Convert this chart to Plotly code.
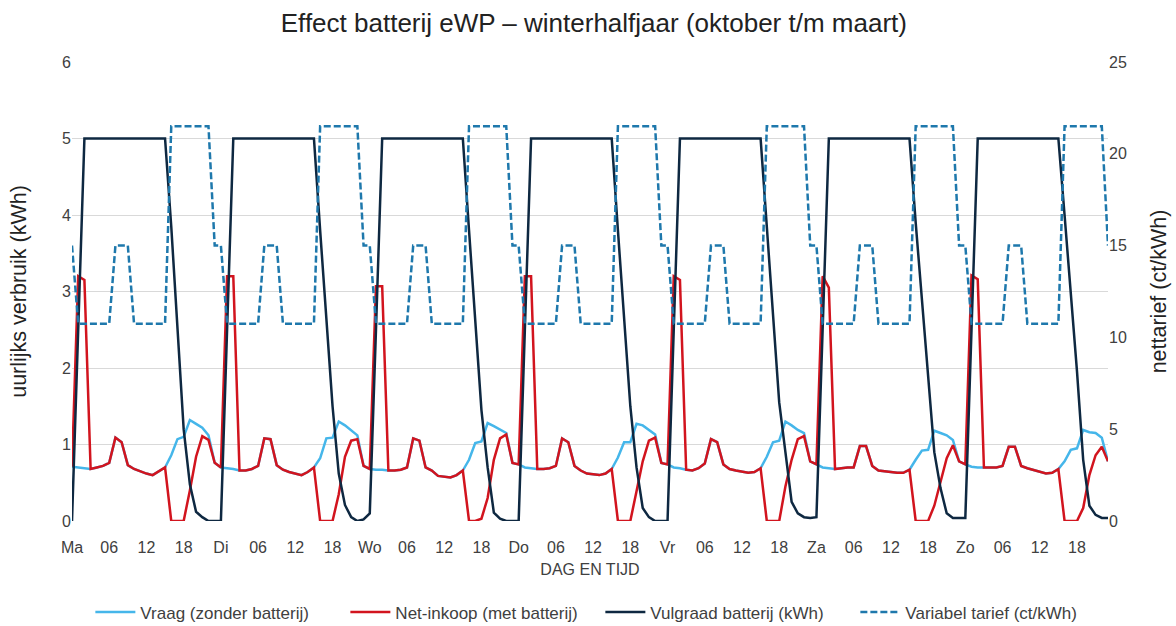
import plotly.graph_objects as go

# ---------------- data (hour index 0..167, Monday 00h .. Sunday 23h) ----------------
x_tick_labels = ["Ma", "06", "12", "18", "Di", "06", "12", "18", "Wo", "06", "12", "18",
                 "Do", "06", "12", "18", "Vr", "06", "12", "18", "Za", "06", "12", "18",
                 "Zo", "06", "12", "18"]

vraag = [
    0.71, 0.70, 0.69, 0.68, 0.70, 0.72, 0.76, 1.09, 1.03, 0.73, 0.68, 0.645, 0.62, 0.60, 0.645, 0.70, 0.86, 1.07, 1.10, 1.32, 1.27, 1.22, 1.12, 0.76,
    0.70, 0.69, 0.68, 0.66, 0.66, 0.68, 0.72, 1.08, 1.07, 0.73, 0.67, 0.64, 0.62, 0.60, 0.64, 0.70, 0.82, 1.08, 1.09, 1.30, 1.25, 1.19, 1.12, 0.72,
    0.68, 0.67, 0.67, 0.66, 0.66, 0.67, 0.70, 1.08, 1.05, 0.70, 0.66, 0.59, 0.58, 0.57, 0.60, 0.66, 0.80, 1.02, 1.04, 1.28, 1.24, 1.20, 1.15, 0.76,
    0.74, 0.70, 0.69, 0.68, 0.68, 0.69, 0.72, 1.08, 1.03, 0.72, 0.66, 0.62, 0.61, 0.60, 0.62, 0.68, 0.83, 1.03, 1.03, 1.27, 1.25, 1.19, 1.13, 0.76,
    0.74, 0.70, 0.69, 0.67, 0.66, 0.69, 0.75, 1.07, 1.03, 0.74, 0.68, 0.66, 0.64, 0.63, 0.64, 0.69, 0.84, 1.03, 1.05, 1.30, 1.25, 1.19, 1.15, 0.78,
    0.74, 0.70, 0.69, 0.68, 0.69, 0.70, 0.70, 0.98, 0.98, 0.72, 0.66, 0.65, 0.64, 0.63, 0.63, 0.67, 0.80, 0.92, 0.93, 1.18, 1.15, 1.12, 1.06, 0.78,
    0.74, 0.71, 0.70, 0.70, 0.70, 0.70, 0.72, 0.97, 0.97, 0.72, 0.69, 0.67, 0.65, 0.62, 0.63, 0.68, 0.78, 0.93, 0.95, 1.19, 1.16, 1.15, 1.09, 0.78,
]

net_inkoop = [
    0.71, 3.20, 3.15, 0.68, 0.70, 0.72, 0.76, 1.09, 1.03, 0.73, 0.68, 0.645, 0.62, 0.60, 0.645, 0.70, 0.00, 0.00, 0.00, 0.40, 0.84, 1.11, 1.06, 0.76,
    0.70, 3.20, 3.20, 0.66, 0.66, 0.68, 0.72, 1.08, 1.07, 0.73, 0.67, 0.64, 0.62, 0.60, 0.64, 0.70, 0.00, 0.00, 0.00, 0.35, 0.84, 1.05, 1.07, 0.72,
    0.68, 3.07, 3.07, 0.66, 0.66, 0.67, 0.70, 1.08, 1.05, 0.70, 0.66, 0.59, 0.58, 0.57, 0.60, 0.66, 0.00, 0.00, 0.03, 0.30, 0.80, 1.08, 1.13, 0.76,
    0.74, 3.20, 3.20, 0.68, 0.68, 0.69, 0.72, 1.08, 1.03, 0.72, 0.66, 0.62, 0.61, 0.60, 0.62, 0.68, 0.00, 0.00, 0.00, 0.39, 0.78, 1.05, 1.09, 0.76,
    0.74, 3.20, 3.15, 0.67, 0.66, 0.69, 0.75, 1.07, 1.03, 0.74, 0.68, 0.66, 0.64, 0.63, 0.64, 0.69, 0.00, 0.00, 0.00, 0.45, 0.80, 1.07, 1.11, 0.78,
    0.74, 3.20, 3.05, 0.68, 0.69, 0.70, 0.70, 0.98, 0.98, 0.72, 0.66, 0.65, 0.64, 0.63, 0.63, 0.67, 0.00, 0.00, 0.00, 0.20, 0.50, 0.82, 0.99, 0.78,
    0.74, 3.21, 3.16, 0.70, 0.70, 0.70, 0.72, 0.97, 0.97, 0.72, 0.69, 0.67, 0.65, 0.62, 0.63, 0.68, 0.00, 0.00, 0.00, 0.17, 0.60, 0.86, 0.97, 0.78,
]

vulgraad = [
    0.00, 2.50, 5.00, 5.00, 5.00, 5.00, 5.00, 5.00, 5.00, 5.00, 5.00, 5.00, 5.00, 5.00, 5.00, 5.00, 3.85, 2.45, 1.20, 0.48, 0.12, 0.05, 0.00, 0.00,
    0.00, 2.50, 5.00, 5.00, 5.00, 5.00, 5.00, 5.00, 5.00, 5.00, 5.00, 5.00, 5.00, 5.00, 5.00, 5.00, 3.80, 2.60, 1.50, 0.62, 0.21, 0.05, 0.00, 0.02,
    0.10, 2.50, 5.00, 5.00, 5.00, 5.00, 5.00, 5.00, 5.00, 5.00, 5.00, 5.00, 5.00, 5.00, 5.00, 5.00, 3.80, 2.60, 1.45, 0.70, 0.11, 0.03, 0.00, 0.00,
    0.00, 2.50, 5.00, 5.00, 5.00, 5.00, 5.00, 5.00, 5.00, 5.00, 5.00, 5.00, 5.00, 5.00, 5.00, 5.00, 3.80, 2.65, 1.50, 0.70, 0.17, 0.05, 0.00, 0.00,
    0.00, 2.50, 5.00, 5.00, 5.00, 5.00, 5.00, 5.00, 5.00, 5.00, 5.00, 5.00, 5.00, 5.00, 5.00, 5.00, 3.85, 2.70, 1.55, 0.90, 0.25, 0.10, 0.05, 0.04,
    0.05, 2.50, 5.00, 5.00, 5.00, 5.00, 5.00, 5.00, 5.00, 5.00, 5.00, 5.00, 5.00, 5.00, 5.00, 5.00, 3.90, 2.90, 1.85, 0.90, 0.43, 0.10, 0.04, 0.04,
    0.04, 2.50, 5.00, 5.00, 5.00, 5.00, 5.00, 5.00, 5.00, 5.00, 5.00, 5.00, 5.00, 5.00, 5.00, 5.00, 4.00, 2.97, 1.96, 0.80, 0.20, 0.08, 0.04, 0.04,
]

tarief = [
    15.0, 10.75, 10.75, 10.75, 10.75, 10.75, 10.75, 15.0, 15.0, 15.0, 10.75, 10.75, 10.75, 10.75, 10.75, 10.75, 21.5, 21.5, 21.5, 21.5, 21.5, 21.5, 21.5, 15.0,
    15.0, 10.75, 10.75, 10.75, 10.75, 10.75, 10.75, 15.0, 15.0, 15.0, 10.75, 10.75, 10.75, 10.75, 10.75, 10.75, 21.5, 21.5, 21.5, 21.5, 21.5, 21.5, 21.5, 15.0,
    15.0, 10.75, 10.75, 10.75, 10.75, 10.75, 10.75, 15.0, 15.0, 15.0, 10.75, 10.75, 10.75, 10.75, 10.75, 10.75, 21.5, 21.5, 21.5, 21.5, 21.5, 21.5, 21.5, 15.0,
    15.0, 10.75, 10.75, 10.75, 10.75, 10.75, 10.75, 15.0, 15.0, 15.0, 10.75, 10.75, 10.75, 10.75, 10.75, 10.75, 21.5, 21.5, 21.5, 21.5, 21.5, 21.5, 21.5, 15.0,
    15.0, 10.75, 10.75, 10.75, 10.75, 10.75, 10.75, 15.0, 15.0, 15.0, 10.75, 10.75, 10.75, 10.75, 10.75, 10.75, 21.5, 21.5, 21.5, 21.5, 21.5, 21.5, 21.5, 15.0,
    15.0, 10.75, 10.75, 10.75, 10.75, 10.75, 10.75, 15.0, 15.0, 15.0, 10.75, 10.75, 10.75, 10.75, 10.75, 10.75, 21.5, 21.5, 21.5, 21.5, 21.5, 21.5, 21.5, 15.0,
    15.0, 10.75, 10.75, 10.75, 10.75, 10.75, 10.75, 15.0, 15.0, 15.0, 10.75, 10.75, 10.75, 10.75, 10.75, 10.75, 21.5, 21.5, 21.5, 21.5, 21.5, 21.5, 21.5, 15.0,
]

hours = list(range(len(vraag)))
tick_positions = list(range(0, len(vraag), 6))

FONT = "Liberation Sans, Arial, sans-serif"
TXT = "#404040"

fig = go.Figure()
fig.add_trace(go.Scatter(x=hours, y=vraag, mode="lines", name="Vraag (zonder batterij)",
                         line=dict(color="#45B6EA", width=2.5)))
fig.add_trace(go.Scatter(x=hours, y=net_inkoop, mode="lines", name="Net-inkoop (met batterij)",
                         line=dict(color="#D2141E", width=2.5)))
fig.add_trace(go.Scatter(x=hours, y=vulgraad, mode="lines", name="Vulgraad batterij (kWh)",
                         line=dict(color="#0E2841", width=2.5)))
fig.add_trace(go.Scatter(x=hours, y=tarief, mode="lines", name="Variabel tarief (ct/kWh)",
                         yaxis="y2", line=dict(color="#1E78AC", width=2.5, dash="7px,3px")))

fig.update_layout(
    width=1176, height=626,
    paper_bgcolor="white", plot_bgcolor="white",
    font=dict(family=FONT, size=16, color=TXT),
    margin=dict(l=72, r=68, t=62, b=105, autoexpand=False),
    title=dict(text="Effect batterij eWP \u2013 winterhalfjaar (oktober t/m maart)",
               x=0.505, xanchor="center", y=1 - 23 / 626, yanchor="middle",
               font=dict(family=FONT, size=26, color="#222222")),
    xaxis=dict(range=[0, 167], tickvals=tick_positions, ticktext=x_tick_labels,
               showgrid=False, zeroline=False, showline=False, automargin=False,
               ticks="outside", ticklen=12, tickcolor="rgba(0,0,0,0)",
               tickfont=dict(size=16, color=TXT),
               title=dict(text="DAG EN TIJD", font=dict(size=16, color=TXT), standoff=8)),
    yaxis=dict(range=[0, 6], dtick=1, showgrid=True, gridcolor="#D9D9D9", gridwidth=1,
               zeroline=False, showline=False, automargin=False, tickfont=dict(size=16, color=TXT),
               title=dict(text="uurlijks verbruik (kWh)", font=dict(size=21.5, color="#222222"), standoff=29)),
    yaxis2=dict(range=[0, 25], dtick=5, overlaying="y", side="right", showgrid=False,
                zeroline=False, showline=False, automargin=False, tickfont=dict(size=16, color=TXT),
                title=dict(text="nettarief (ct/kWh)", font=dict(size=21.5, color="#222222"), standoff=25)),
    legend=dict(orientation="h", x=0.51, xanchor="center", y=-0.16, yanchor="top",
                font=dict(size=17, color=TXT), entrywidth=200, itemwidth=40,
                bgcolor="rgba(0,0,0,0)"),
    showlegend=True,
)

fig.write_html("out.html", config={"displayModeBar": False},
               post_script="document.body.style.margin='0';document.body.style.padding='0';window.dispatchEvent(new Event('resize'));")
